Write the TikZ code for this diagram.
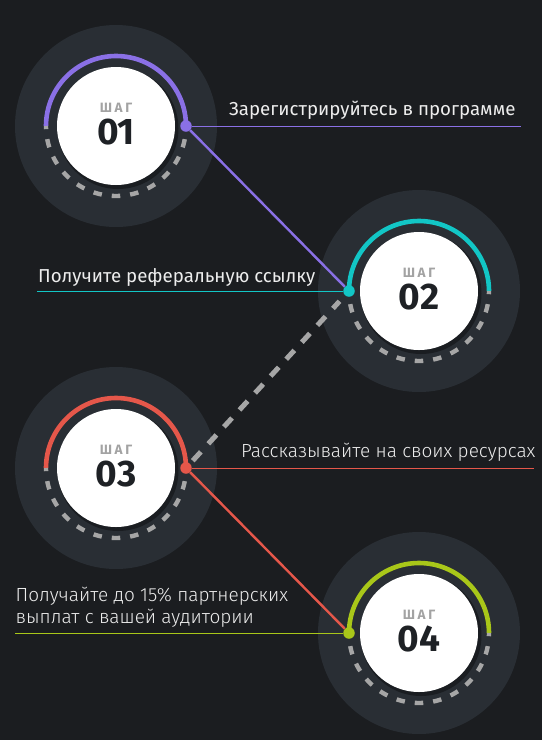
\documentclass[tikz,border=0pt]{standalone}
\usepackage{fontspec}
\setmainfont{Fira Sans}
\newfontfamily\lightfont{Fira Sans Light}
\usepackage{tikz}
\usetikzlibrary{positioning}

\definecolor{bgdark}{HTML}{1B1D20}
\definecolor{discgray}{HTML}{292E34}
\definecolor{stepviolet}{HTML}{8A70E6}
\definecolor{stepteal}{HTML}{12C6C6}
\definecolor{stepred}{HTML}{E5574A}
\definecolor{steplime}{HTML}{A9C719}
\definecolor{dashgray}{HTML}{A6A6A6}
\definecolor{numdark}{HTML}{1E2125}
\definecolor{tagtext}{HTML}{A3A3A3}
\definecolor{captext}{HTML}{EDEDED}

\tikzstyle{outerdisc} = [circle, minimum size=202pt, inner sep=0pt, fill=discgray]
\tikzstyle{discshade} = [circle, minimum size=121pt, inner sep=0pt, fill=black, opacity=.35]
\tikzstyle{innerdisc} = [circle, minimum size=118pt, inner sep=0pt, fill=white]
\tikzstyle{stepdot} = [circle, minimum size=11.5pt, inner sep=0pt]
\tikzstyle{ring} = [line width=4.6pt]
\tikzstyle{dashring} = [line width=4.4pt, draw=dashgray,
 dash pattern=on 8.5pt off 10pt, dash phase=5.3pt]
\tikzstyle{link} = [line width=2.4pt]
\tikzstyle{dashlink} = [line width=5pt, draw=dashgray,
 dash pattern=on 12pt off 11pt, shorten <=4pt, shorten >=8pt]
\tikzstyle{rule} = [line width=0.9pt]
\tikzstyle{steptag} = [inner sep=0pt, text=tagtext, font=\fontsize{13.5}{14}\bfseries\selectfont]
\tikzstyle{stepnum} = [inner sep=0pt, text=numdark, font=\fontsize{37}{38}\bfseries\selectfont]
\tikzstyle{caption} = [anchor=base west, inner sep=0pt, text=captext,
 font=\fontsize{18.7}{21.7}\selectfont]
\tikzstyle{lightcaption} = [caption, font=\fontsize{19}{21.7}\lightfont\selectfont]

\begin{document}
\begin{tikzpicture}[x=1pt, y=-1pt]
\useasboundingbox (0,0) rectangle (542,740);
\fill[bgdark] (0,0) rectangle (542,740);

% backdrops
\node(step1) [outerdisc] at (116,126) {};
\node(step2) [outerdisc] at (419,291) {};
\node(step3) [outerdisc] at (116,468) {};
\node(step4) [outerdisc] at (419,633) {};

% rings: colour on top, dashes below
\draw[ring, stepviolet] (step1) ++(-70,0) arc[start angle=180, end angle=360, radius=70];
\draw[dashring] (step1) ++(-70,0) arc[start angle=180, end angle=0, radius=70];
\draw[ring, stepteal] (step2) ++(-70,0) arc[start angle=180, end angle=360, radius=70];
\draw[dashring] (step2) ++(-70,0) arc[start angle=180, end angle=0, radius=70];
\draw[ring, stepred] (step3) ++(-70,0) arc[start angle=180, end angle=360, radius=70];
\draw[dashring] (step3) ++(-70,0) arc[start angle=180, end angle=0, radius=70];
\draw[ring, steplime] (step4) ++(-70,0) arc[start angle=180, end angle=360, radius=70];
\draw[dashring] (step4) ++(-70,0) arc[start angle=180, end angle=0, radius=70];

% white faces
\node(shade1) [discshade] at (118,128.5) {};
\node(face1) [innerdisc] at (step1) {};
\node(shade2) [discshade] at (421,293.5) {};
\node(face2) [innerdisc] at (step2) {};
\node(shade3) [discshade] at (118,470.5) {};
\node(face3) [innerdisc] at (step3) {};
\node(shade4) [discshade] at (421,635.5) {};
\node(face4) [innerdisc] at (step4) {};

\node(tag1) [steptag] at (116,108) {Ш\kern2.6ptА\kern2.6ptГ};
\node(num1) [stepnum, below=6pt of tag1] {01};
\node(tag2) [steptag] at (419,273) {Ш\kern2.6ptА\kern2.6ptГ};
\node(num2) [stepnum, below=6pt of tag2] {02};
\node(tag3) [steptag] at (116,450) {Ш\kern2.6ptА\kern2.6ptГ};
\node(num3) [stepnum, below=6pt of tag3] {03};
\node(tag4) [steptag] at (419,615) {Ш\kern2.6ptА\kern2.6ptГ};
\node(num4) [stepnum, below=6pt of tag4] {04};

% dots on the rings
\node(dot1) [stepdot, fill=stepviolet] at (186,126) {};
\node(dot2) [stepdot, fill=stepteal] at (349,291) {};
\node(dot3) [stepdot, fill=stepred] at (186,468) {};
\node(dot4) [stepdot, fill=steplime] at (349,633) {};

% links between steps
\draw[link, stepviolet] (dot1) -- (dot2);
\draw[dashlink] (dot3) -- (dot2);
\draw[link, stepred] (dot3) -- (dot4);

% captions and rules
\coordinate(rule1) at (521,126);
\coordinate(rule2) at (37,291);
\coordinate(rule3) at (534,468);
\coordinate(rule4) at (15,633);
\draw[rule, stepviolet] (dot1) -- (rule1);
\draw[rule, stepteal] (rule2) -- (dot2);
\draw[rule, stepred] (dot3) -- (rule3);
\draw[rule, steplime] (rule4) -- (dot4);

\node(text1) [caption] at (229,115) {Зарегистрируйтесь в программе};
\node(text2) [caption] at (38,282) {Получите реферальную ссылку};
\node(text3) [lightcaption] at (241,457) {Рассказывайте на своих ресурсах};
\node(text4) [lightcaption, align=left] at (15.5,623.5) {Получайте до 15\% партнерских\\выплат с вашей аудитории};
\end{tikzpicture}
\end{document}
